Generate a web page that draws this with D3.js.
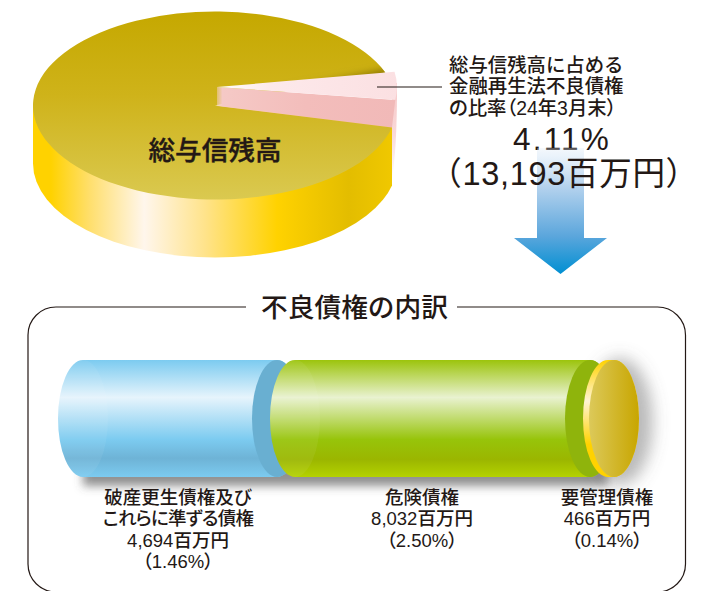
<!DOCTYPE html>
<html>
<head>
<meta charset="utf-8">
<script src="https://cdn.jsdelivr.net/npm/d3@7"></script>
<style>
    html, body { margin: 0; padding: 0; background: #fff; }
    svg { display: block; }
    text { font-family: "Liberation Sans", "Noto Sans CJK JP", sans-serif; fill: #231815; }
    .tight { font-feature-settings: "palt"; }
</style>
</head>
<body>
<svg class="chart"></svg>
<script>
// wedge sizes as drawn in the picture (the picture is not to scale with 4.11%)
var pieLabels = ["不良債権", "総与信残高"];
var pieShares = [9.47, 90.53];

var bondNames = ["破産更生債権及び\nこれらに準ずる債権", "危険債権", "要管理債権"];
var bondAmounts = [4694, 8032, 466];
var bondRates = [1.46, 2.50, 0.14];

var noteLines = ["総与信残高に占める", "金融再生法不良債権", "の比率（24年3月末）"];
var totalRate = "4.11%";
var totalAmount = "（13,193百万円）";
var boxTitle = "不良債権の内訳";

var width = 709, height = 591;
var chart = d3.select(".chart").attr("width", width).attr("height", height);
var defs = chart.append("defs");

function gradient(id, x1, y1, x2, y2, stops, user) {
    var g = defs.append("linearGradient").attr("id", id)
        .attr("x1", x1).attr("y1", y1).attr("x2", x2).attr("y2", y2);
    if (user) g.attr("gradientUnits", "userSpaceOnUse");
    stops.forEach(function (s) {
        g.append("stop").attr("offset", s[0]).attr("stop-color", s[1])
            .attr("stop-opacity", s[2] === undefined ? 1 : s[2]);
    });
}
function blur(id, dev) {
    defs.append("filter").attr("id", id)
        .attr("x", "-30%").attr("y", "-60%").attr("width", "160%").attr("height", "220%")
        .append("feGaussianBlur").attr("stdDeviation", dev);
}

gradient("pieTop", 0, 0, 0, 1, [[0, "#c5a800"], [0.45, "#cfb31a"], [1, "#dac950"]]);
gradient("pieSide", 33, 0, 392, 0, [[0, "#ffd200"], [0.05, "#ffd200"], [0.16, "#ffdf6e"], [0.31, "#fff6ec"],
    [0.48, "#ffe38a"], [0.68, "#ffd200"], [0.88, "#e3bd00"], [1, "#f0c800"]], true);
gradient("pinkTop", 0, 0, 1, 0, [[0, "#fff"], [0.3, "#fde9eb"], [1, "#fbe0e2"]]);
gradient("pinkWall", 0, 0, 1, 0, [[0, "#f5cfc0", 0.5], [0.03, "#f5c9c6"], [0.5, "#f3bdbb"], [1, "#f1b9b8"]]);
gradient("pinkOuter", 0, 0, 0, 1, [[0, "#f6c6c6"], [0.5, "#f9d8d8"], [1, "#fff"]]);
gradient("pieDark", 270, 0, 385, 0, [[0, "#8a7400", 0], [1, "#8a7400", 0.95]], true);
gradient("arrowFill", 0, 0, 0, 1, [[0, "#dce9f6", 0.25], [0.06, "#e6f0fa", 0.8], [0.3, "#b6d3ee"], [0.7, "#5ba6dc"], [1, "#008fd2"]]);
gradient("bondBlue", 0, 0, 0, 1, [[0, "#7ccbf0"], [0.32, "#e6f4fc"], [0.68, "#7ccbf0"], [0.84, "#6eb3d6"], [1, "#7ccbf0"]]);
gradient("bondGreen", 0, 0, 0, 1, [[0, "#9cc40c"], [0.32, "#e9f2d0"], [0.68, "#97c40a"], [0.85, "#9bb600"], [1, "#b4d200"]]);
gradient("bondGold", 0, 0, 0, 1, [[0, "#ffd200"], [0.35, "#fff4d4"], [0.72, "#ffd200"], [1, "#ffd200"]]);
gradient("discFace", 0, 0, 1, 0, [[0, "#dcc95a"], [1, "#c8a600"]]);
blur("soft", 5);
blur("wide", 8);
blur("softer", 3.5);

// top pie
var pieCx = 215, pieCy = 105.5, pieRx = 182, pieRy = 94, pieDepth = 58, pieRight = 392;
var squash = pieRy / pieRx;
var deg = Math.PI / 180;
var pieData = d3.pie().sort(null).startAngle(69.4 * deg).endAngle((69.4 + 360) * deg)(pieShares);
var arc = d3.arc().innerRadius(0).outerRadius(pieRx);
var gold = pieData[1], slot = pieData[0];

defs.append("clipPath").attr("id", "pieClip").append("rect")
    .attr("x", 0).attr("y", 0).attr("width", pieRight).attr("height", 300);
defs.append("clipPath").attr("id", "goldClip").append("path")
    .attr("transform", "translate(" + pieCx + "," + pieCy + ") scale(1," + squash + ")")
    .attr("d", arc(gold));

var pie = chart.append("g");
function rimPoint(cx, cy, r, angle) {
    return [cx + r * Math.sin(angle), cy - r * Math.cos(angle) * squash];
}

// gold wall
pie.append("path")
    .attr("clip-path", "url(#pieClip)")
    .attr("fill", "url(#pieSide)")
    .attr("d", "M" + (pieCx - pieRx) + "," + pieCy + "v" + pieDepth +
        "A" + pieRx + "," + pieRy + " 0 0 0 " + (pieCx + pieRx) + "," + (pieCy + pieDepth) +
        "V" + pieCy + "Z");

// pink outer wall, fading out downwards
var pinkCy = 87, pinkR = 182;
var pinkA0 = 80.5 * deg, pinkA1 = 97.9 * deg;
var lowerEnd = rimPoint(pieCx, pieCy, pieRx, slot.endAngle);
var pinkEnd = rimPoint(pieCx, pinkCy, pinkR, pinkA1);
pie.append("path")
    .attr("fill", "url(#pinkOuter)")
    .attr("d", "M" + pieRight + "," + (pinkCy - 4) + "H" + (pieCx + pinkR) + "C" + (pieCx + pinkR) + ",125 " +
        (pieCx + pinkR - 1) + ",150 " + pieRight + ",180Z");

// gold top
pie.append("path")
    .attr("transform", "translate(" + pieCx + "," + pieCy + ") scale(1," + squash + ")")
    .attr("fill", "url(#pieTop)")
    .attr("d", arc(gold));

// shadow on the gold above the wedge
var upperGold = rimPoint(pieCx, pieCy, pieRx, slot.startAngle);
pie.append("g").attr("clip-path", "url(#goldClip)").append("line")
    .attr("x1", pieCx + 60).attr("y1", pieCy - 12)
    .attr("x2", upperGold[0] + 4).attr("y2", upperGold[1] + 1)
    .attr("stroke", "url(#pieDark)").attr("stroke-width", 10).attr("filter", "url(#softer)");
pie.append("line")
    .attr("x1", upperGold[0] - 14).attr("y1", upperGold[1] - 6)
    .attr("x2", upperGold[0] + 6).attr("y2", upperGold[1] - 6)
    .attr("stroke", "#999").attr("stroke-opacity", 0.3).attr("stroke-width", 6).attr("filter", "url(#softer)");

// slot left by the lifted wedge
pie.append("path")
    .attr("fill", "url(#pinkWall)")
    .attr("d", d3.line()([[pieCx + 2, pinkCy], pinkEnd, [pieRight, lowerEnd[1]], [pieCx + 2, pieCy + 0.5]]) + "Z");

// lifted wedge top
pie.append("path")
    .attr("transform", "translate(" + (pieCx + 2) + "," + pinkCy + ") scale(1," + squash + ")")
    .attr("fill", "url(#pinkTop)")
    .attr("d", d3.arc().innerRadius(0).outerRadius(pinkR - 2).startAngle(pinkA0).endAngle(pinkA1)());

pie.append("text")
    .attr("x", pieCx).attr("y", 151)
    .attr("text-anchor", "middle").attr("dominant-baseline", "central")
    .attr("font-size", 26.6).attr("font-weight", 500)
    .attr("stroke", "#231815").attr("stroke-width", 0.4)
    .text(pieLabels[1]);

// note next to the wedge
chart.append("line")
    .attr("x1", 377).attr("x2", 442).attr("y1", pinkCy).attr("y2", pinkCy)
    .attr("stroke", "#231815").attr("stroke-width", 1.2);

chart.selectAll(".note").data(noteLines).enter().append("text")
    .attr("class", function (d, i) { return i == 2 ? "note tight" : "note"; })
    .attr("x", 449)
    .attr("y", function (d, i) { return 64.5 + i * 21.8; })
    .attr("dominant-baseline", "central")
    .attr("font-size", 19.4).attr("font-weight", 500)
    .text(function (d) { return d; });

chart.append("text")
    .attr("x", 562).attr("y", 149.5)
    .attr("text-anchor", "middle")
    .attr("font-size", 31.5).attr("letter-spacing", 2.2)
    .text(totalRate);

// arrow
var arrowX = 560.5, shaftHalf = 23.5, headHalf = 46.5, arrowTop = 148, headTop = 238, arrowTip = 274;
chart.append("path")
    .attr("fill", "url(#arrowFill)")
    .attr("d", d3.line()([
        [arrowX - shaftHalf, arrowTop], [arrowX + shaftHalf, arrowTop], [arrowX + shaftHalf, headTop],
        [arrowX + headHalf, headTop], [arrowX, arrowTip], [arrowX - headHalf, headTop], [arrowX - shaftHalf, headTop]
    ]) + "Z");

chart.append("text")
    .attr("x", 564).attr("y", 185)
    .attr("text-anchor", "middle")
    .attr("font-size", 32.5).attr("letter-spacing", 0.7)
    .text(totalAmount);

// box
var box = { x: 28, y: 307, w: 657.5, h: 285, r: 28 };
chart.append("rect")
    .attr("x", box.x).attr("y", box.y).attr("width", box.w).attr("height", box.h)
    .attr("rx", box.r).attr("ry", box.r)
    .attr("fill", "#fff").attr("stroke", "#231815").attr("stroke-width", 1.2);
chart.append("rect").attr("x", 246).attr("y", 296).attr("width", 211).attr("height", 24).attr("fill", "#fff");
chart.append("text")
    .attr("x", 354.5).attr("y", 308)
    .attr("text-anchor", "middle").attr("dominant-baseline", "central")
    .attr("font-size", 26.7).attr("font-weight", 500)
    .text(boxTitle);

// bars: three cylinders end to end
var barTop = 360, barBottom = 477, capRx = 25;
var barRy = (barBottom - barTop) / 2, barMid = barTop + barRy;
var capGap = 18;
var cumulative = d3.cumsum(bondAmounts);
var x = d3.scaleLinear()
    .domain([0, cumulative[0], cumulative[1], cumulative[2]])
    .range([83, 277, 590, 614]);

var bars = bondAmounts.map(function (d, i) {
    return {
        x0: x(i ? cumulative[i - 1] : 0) + (i ? capGap : 0),
        x1: x(cumulative[i]),
        total: d
    };
});
function cylinder(b) {
    return "M" + b.x0 + "," + barTop + "H" + b.x1 +
        "A" + capRx + "," + barRy + " 0 0 1 " + b.x1 + "," + barBottom +
        "H" + b.x0 +
        "A" + capRx + "," + barRy + " 0 0 1 " + b.x0 + "," + barTop + "Z";
}

var barG = chart.append("g");
barG.append("rect")
    .attr("x", bars[0].x0).attr("y", barBottom - 12)
    .attr("width", bars[2].x0 - bars[0].x0).attr("height", 21)
    .attr("fill", "#555").attr("fill-opacity", 0.65).attr("filter", "url(#soft)");
barG.append("ellipse")
    .attr("cx", bars[2].x1 + 6).attr("cy", barMid + 3)
    .attr("rx", capRx + 8).attr("ry", barRy + 5)
    .attr("fill", "#666").attr("fill-opacity", 0.45).attr("filter", "url(#wide)");

var barFills = ["url(#bondBlue)", "url(#bondGreen)", "url(#bondGold)"];
var capFills = ["#69afd1", "#8fb40c", "url(#discFace)"];

barG.selectAll(".bar").data(bars).enter().append("g").attr("class", "bar")
    .each(function (d, i) {
        var g = d3.select(this);
        g.append("path").attr("d", cylinder(d)).attr("fill", barFills[i]);
        if (i < 2) {
            g.append("ellipse")
                .attr("cx", d.x0).attr("cy", barMid).attr("rx", capRx).attr("ry", barRy)
                .attr("fill", "#fff").attr("fill-opacity", 0.06);
        }
        g.append("ellipse")
            .attr("cx", d.x1).attr("cy", barMid).attr("rx", capRx).attr("ry", barRy)
            .attr("fill", capFills[i]);
    });

// labels under the bars
var labelX = [178, 422, 607];
bondNames.forEach(function (name, i) {
    var lines = name.split("\n").concat([
        d3.format(",")(bondAmounts[i]) + "百万円",
        "（" + bondRates[i].toFixed(2) + "%）"
    ]);
    chart.selectAll(".label" + i).data(lines).enter().append("text")
        .attr("class", "label" + i + " tight")
        .attr("x", labelX[i])
        .attr("y", function (d, j) { return 497 + j * 21.6; })
        .attr("text-anchor", "middle").attr("dominant-baseline", "central")
        .attr("font-size", 18.5).attr("font-weight", 500)
        // the long second line is set tighter in the picture
        .attr("letter-spacing", function (d) { return d.length == 9 ? -0.8 : 0; })
        .text(function (d) { return d; });
});
</script>
</body>
</html>
